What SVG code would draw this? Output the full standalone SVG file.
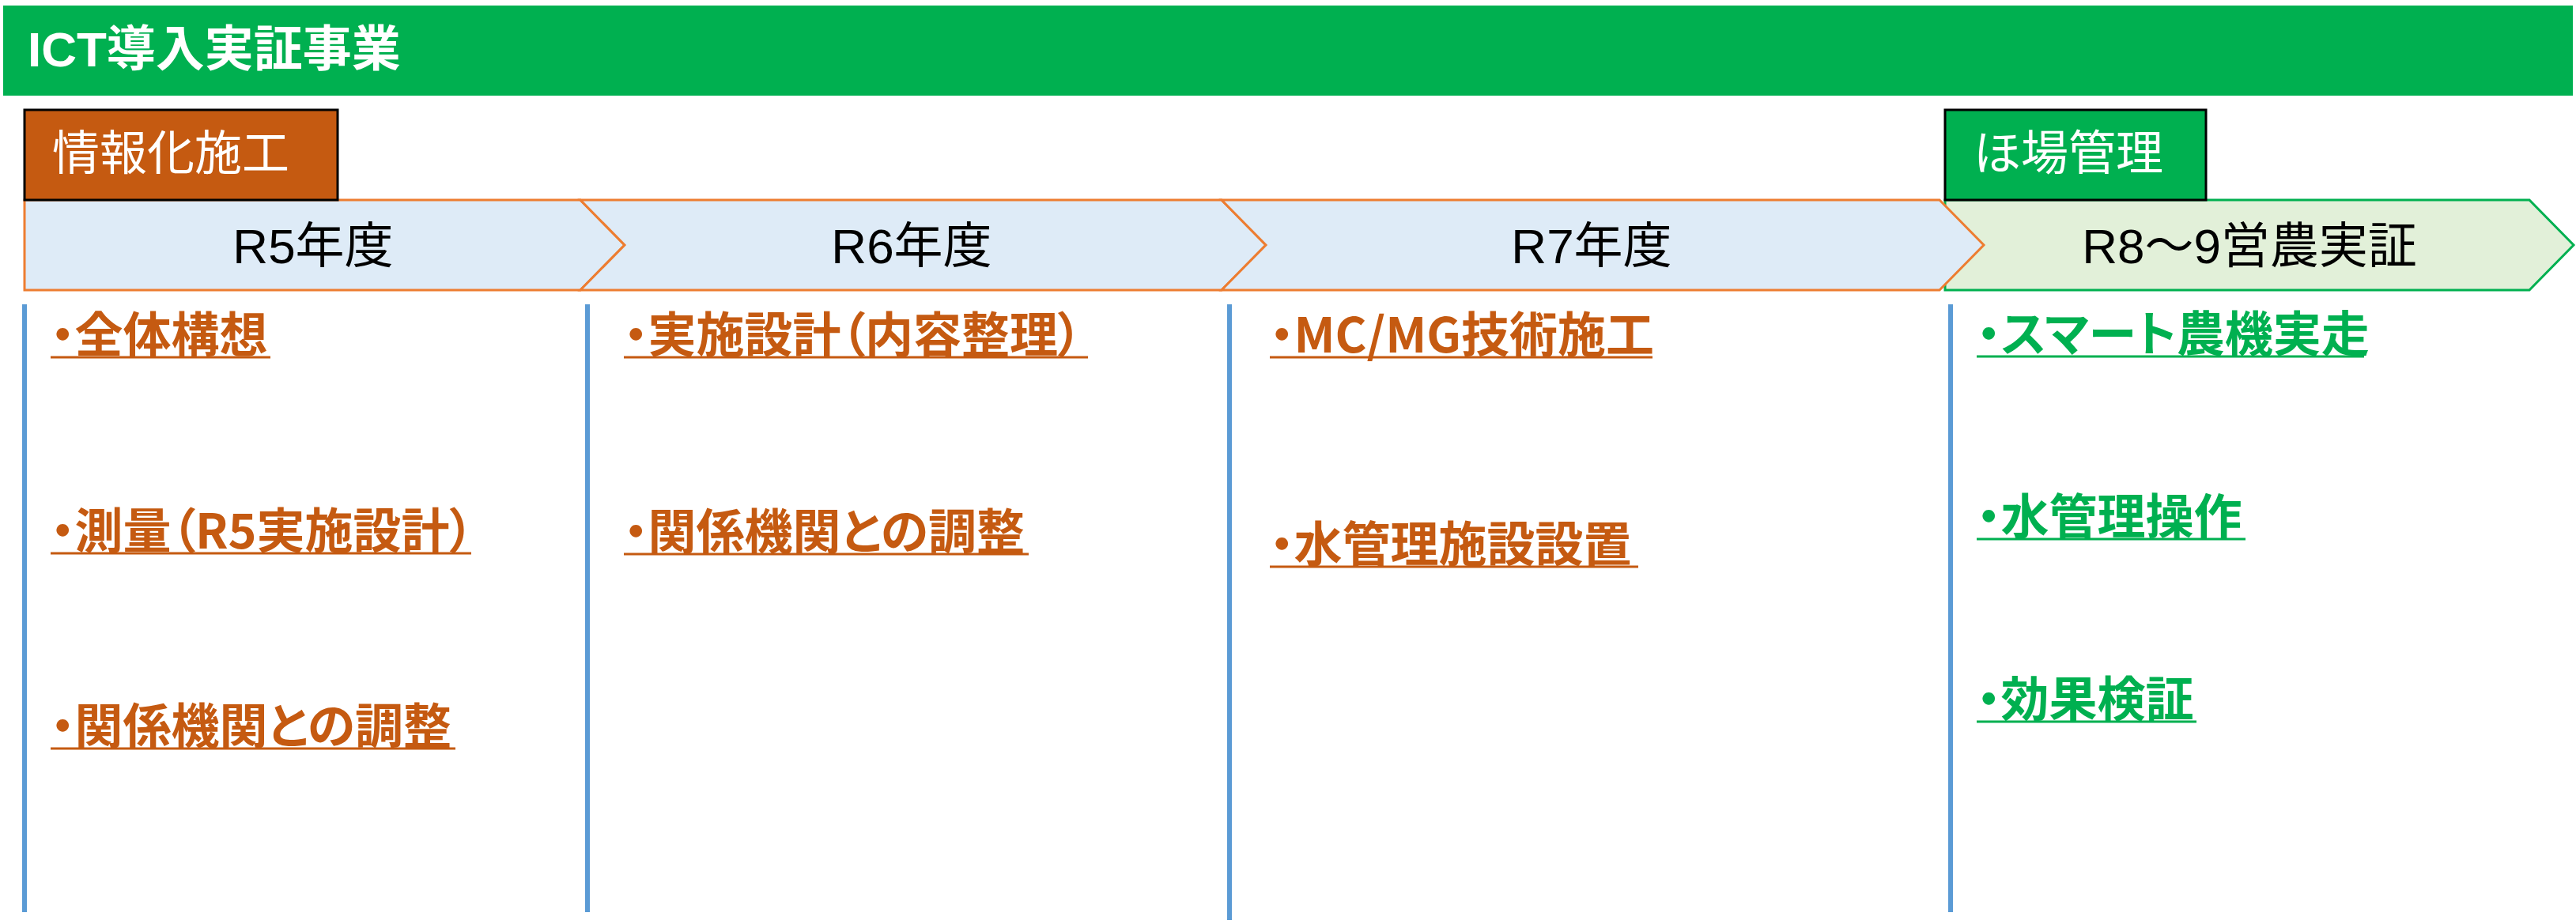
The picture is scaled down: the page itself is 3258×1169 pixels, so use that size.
<svg xmlns="http://www.w3.org/2000/svg" width="3258" height="1169" viewBox="0 0 3258 1169">
<style>
.bg{fill:#ffffff}
.band{fill:#00B050}
.title{font-family:"Liberation Sans","Noto Sans CJK JP",sans-serif;font-size:62px;font-weight:bold;fill:#ffffff}
.tag{stroke:#000000;stroke-width:3}
.tagtxt{font-family:"Noto Sans CJK JP",sans-serif;font-size:60px;fill:#ffffff}
.chev{fill:#DEEBF7;stroke:#ED7D31;stroke-width:3;stroke-linejoin:miter}
.chevg{fill:#E2F0D9;stroke:#00B050;stroke-width:3}
.chevtxt{font-family:"Liberation Sans","Noto Sans CJK JP",sans-serif;font-size:62px;fill:#000000;text-anchor:middle}
.item{font-family:"Noto Sans CJK JP",sans-serif;font-size:61px;font-weight:bold;font-feature-settings:"palt"}
.or{fill:#C55A11}
.gr{fill:#00B050}
.ulo{stroke:#C55A11;stroke-width:3}
.ulg{stroke:#00B050;stroke-width:3}
.rule{stroke:#5B9BD5;stroke-width:6}
</style>
<rect class="bg" x="0" y="0" width="3258" height="1169"/>

<g id="header">
  <rect class="band" x="4" y="7" width="3250" height="114"/>
  <text class="title" x="35" y="84">ICT導入実証事業</text>
</g>

<g id="chevron-r8-9">
  <path class="chevg" d="M2460,253 H3199 L3255,310 L3199,367 H2460 Z"/>
  <text class="chevtxt" x="2845" y="333">R8～9営農実証</text>
</g>
<g id="chevron-r5">
  <path class="chev" d="M31,253 H734 L790,310 L734,367 H31 Z"/>
  <text class="chevtxt" x="396" y="333">R5年度</text>
</g>
<g id="chevron-r6">
  <path class="chev" d="M734,253 H1545 L1601,310 L1545,367 H734 L790,310 Z"/>
  <text class="chevtxt" x="1153" y="333">R6年度</text>
</g>
<g id="chevron-r7">
  <path class="chev" d="M1545,253 H2453 L2509,310 L2453,367 H1545 L1601,310 Z"/>
  <text class="chevtxt" x="2013" y="333">R7年度</text>
</g>

<g id="tag-info">
  <rect class="tag" x="31" y="139" width="396" height="114" fill="#C55A11"/>
  <text class="tagtxt" x="66" y="215">情報化施工</text>
</g>
<g id="tag-field">
  <rect class="tag" x="2460" y="139" width="330" height="114" fill="#00B050"/>
  <text class="tagtxt" x="2496" y="215">ほ場管理</text>
</g>

<g id="connectors">
  <line class="rule" x1="31" y1="385" x2="31" y2="1154"/>
  <line class="rule" x1="743" y1="385" x2="743" y2="1154"/>
  <line class="rule" x1="1555" y1="385" x2="1555" y2="1164"/>
  <line class="rule" x1="2467" y1="385" x2="2467" y2="1154"/>
</g>

<g id="r5-item1">
  <text class="item or" x="64" y="446">・全体構想</text>
  <line class="ulo" x1="64" y1="452" x2="342" y2="452"/>
</g>
<g id="r5-item2">
  <text class="item or" x="64" y="694">・測量（R5実施設計）</text>
  <line class="ulo" x1="64" y1="700" x2="596" y2="700"/>
</g>
<g id="r5-item3">
  <text class="item or" x="64" y="941">・関係機関との調整</text>
  <line class="ulo" x1="64" y1="947" x2="576" y2="947"/>
</g>

<g id="r6-item1">
  <text class="item or" x="789" y="446">・実施設計（内容整理）</text>
  <line class="ulo" x1="789" y1="452" x2="1376" y2="452"/>
</g>
<g id="r6-item2">
  <text class="item or" x="789" y="695">・関係機関との調整</text>
  <line class="ulo" x1="789" y1="701" x2="1301" y2="701"/>
</g>

<g id="r7-item1">
  <text class="item or" x="1606" y="446">・MC/MG技術施工</text>
  <line class="ulo" x1="1606" y1="452" x2="2090" y2="452"/>
</g>
<g id="r7-item2">
  <text class="item or" x="1606" y="711">・水管理施設設置</text>
  <line class="ulo" x1="1606" y1="717" x2="2072" y2="717"/>
</g>

<g id="r8-item1">
  <text class="item gr" x="2500" y="445">・スマート農機実走</text>
  <line class="ulg" x1="2500" y1="451" x2="2990" y2="451"/>
</g>
<g id="r8-item2">
  <text class="item gr" x="2500" y="676">・水管理操作</text>
  <line class="ulg" x1="2500" y1="682" x2="2840" y2="682"/>
</g>
<g id="r8-item3">
  <text class="item gr" x="2500" y="907">・効果検証</text>
  <line class="ulg" x1="2500" y1="913" x2="2778" y2="913"/>
</g>
</svg>
